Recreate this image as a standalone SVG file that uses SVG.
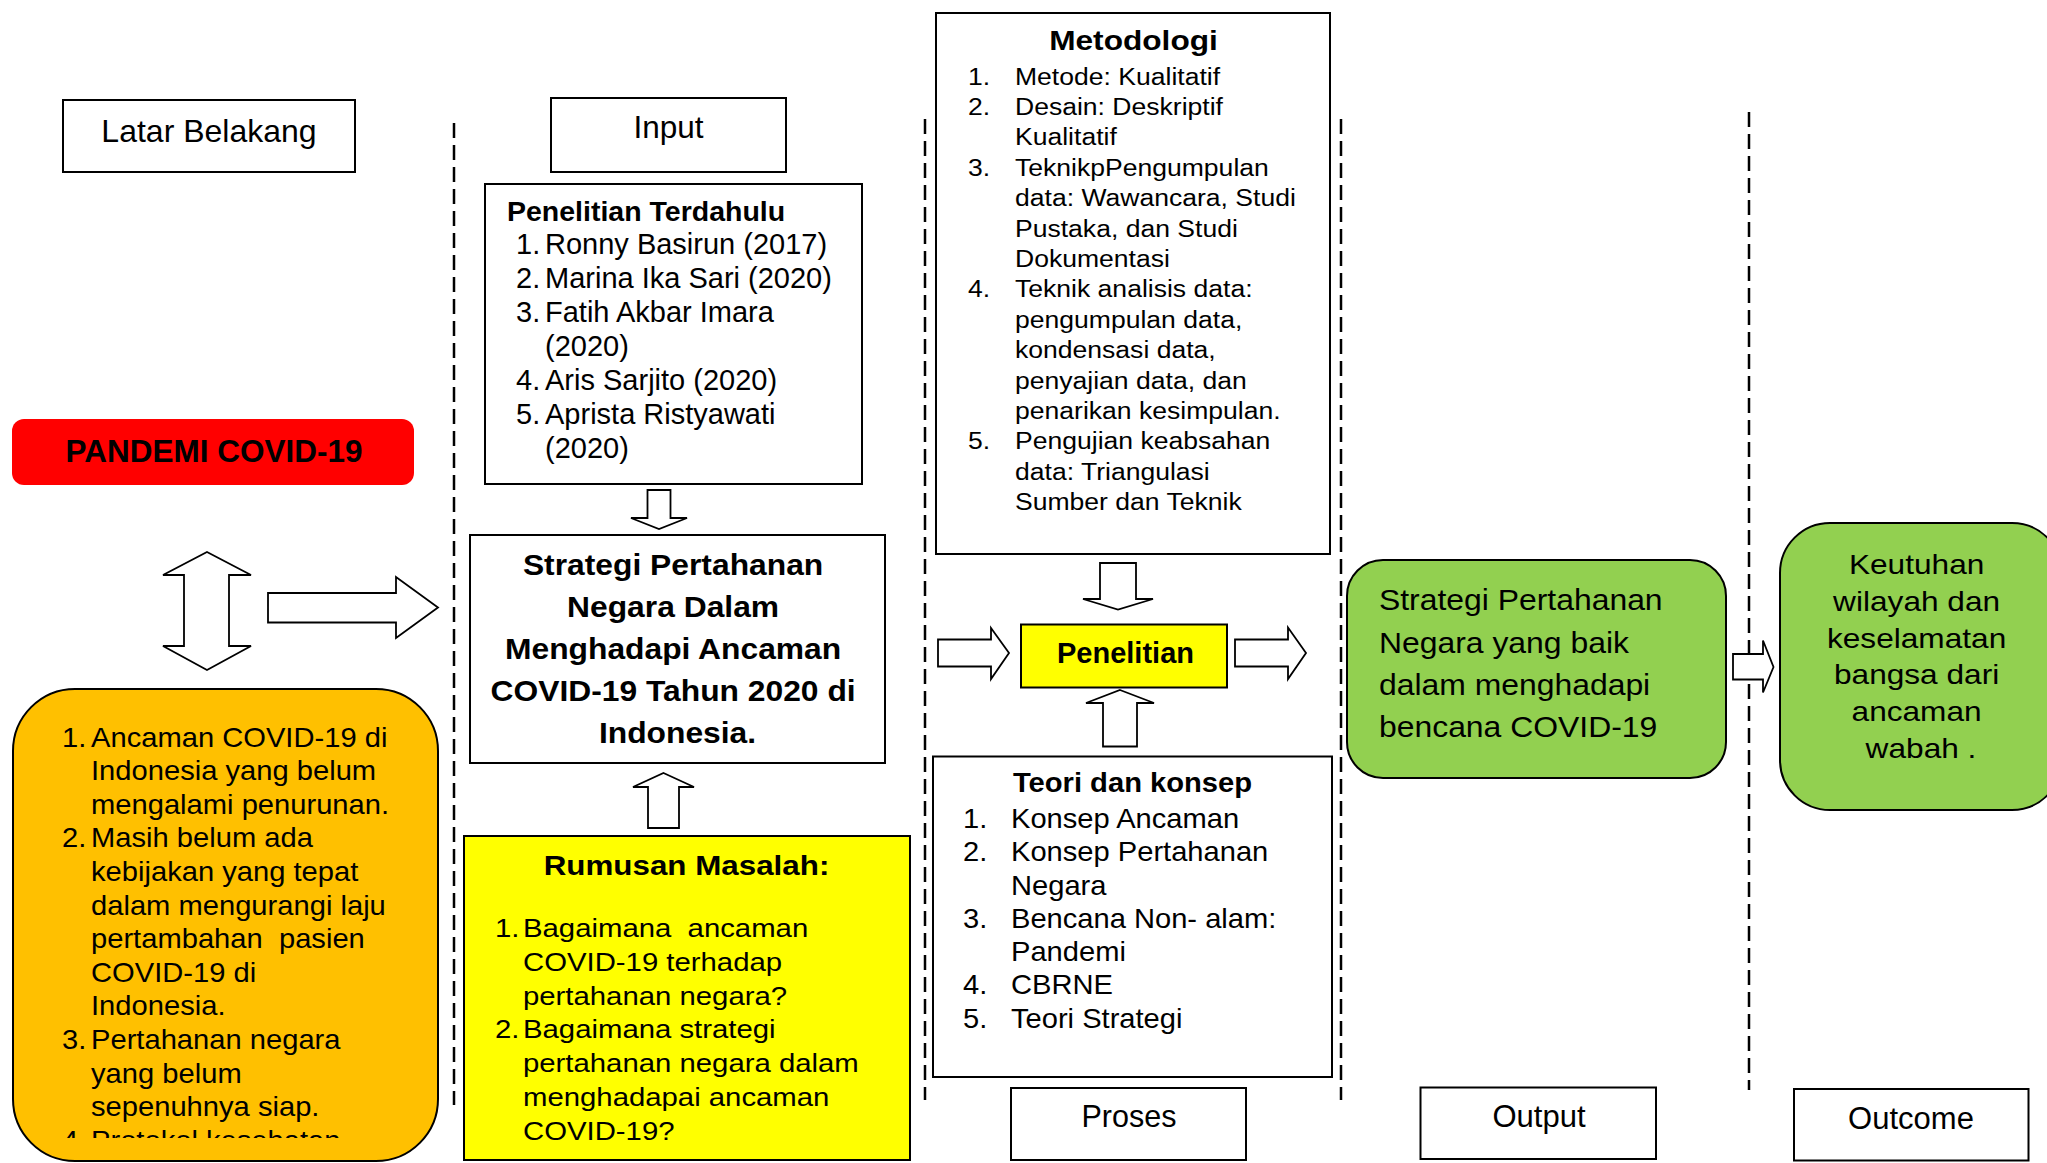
<svg xmlns="http://www.w3.org/2000/svg" width="2047" height="1163" viewBox="0 0 2047 1163">
<style>
.box{fill:#fff;stroke:#000;stroke-width:2}
.yel{fill:#FFFF00;stroke:#000;stroke-width:2}
.grn{fill:#92D050;stroke:#000;stroke-width:2}
.org{fill:#FFC000;stroke:#000;stroke-width:2}
.arrow{fill:#fff;stroke:#000;stroke-width:1.8;stroke-linejoin:miter}
.dash{stroke:#000;stroke-width:2.5;stroke-dasharray:15 7;fill:none}
text{font-family:"Liberation Sans",Arial,sans-serif;fill:#000}
.b{font-weight:bold}
.m{text-anchor:middle}
</style>
<defs>
<clipPath id="orgClip"><rect x="13" y="689" width="425" height="449"/></clipPath>
</defs>
<rect width="2047" height="1163" fill="#fff"/>

<g id="connectors">
<line class="dash" x1="454" y1="123" x2="454" y2="1105"/>
<line class="dash" x1="925" y1="119" x2="925" y2="1100"/>
<line class="dash" x1="1341" y1="119" x2="1341" y2="1100"/>
<line class="dash" x1="1749" y1="112" x2="1749" y2="1090"/>
<polygon id="arrow-double" class="arrow" points="207,552 251,575 229,575 229,646 251,646 207,670 163,646 184,646 184,575 163,575"/>
<polygon id="arrow-latar-strategi" class="arrow" points="268,593 396,593 396,577 438,607.5 396,638 396,622.5 268,622.5"/>
<polygon id="arrow-terdahulu-strategi" class="arrow" points="647.5,490 670.5,490 670.5,518 687,518 659,529 631,518 647.5,518"/>
<polygon id="arrow-rumusan-strategi" class="arrow" points="663.5,773 694,787 679,787 679,828 648,828 648,787 633,787"/>
<polygon id="arrow-metodologi-penelitian" class="arrow" points="1100,563 1136,563 1136,599 1153,599 1118,609.5 1083,599 1100,599"/>
<polygon id="arrow-input-penelitian" class="arrow" points="938,639.5 991,639.5 991,628 1009,653 991,679 991,666.5 938,666.5"/>
<polygon id="arrow-penelitian-output" class="arrow" points="1235,639.5 1288,639.5 1288,627.5 1306,653 1288,679 1288,666.5 1235,666.5"/>
<polygon id="arrow-teori-penelitian" class="arrow" points="1120,690 1154,703 1137,703 1137,746.5 1103,746.5 1103,703 1086,703"/>
<polygon id="arrow-output-outcome" class="arrow" points="1733,654 1763,654 1763,640.5 1773.5,667 1763,692.5 1763,679.5 1733,679.5"/>
</g>

<g id="latar-belakang">
<rect class="box" x="63" y="100" width="292" height="72"/>
<text class="m" x="209" y="142" font-size="32">Latar Belakang</text>
</g>

<g id="pandemi">
<rect x="12" y="419" width="402" height="66" rx="12" fill="#FF0000"/>
<text class="b m" x="214" y="462" font-size="31.5">PANDEMI COVID-19</text>
</g>

<g id="masalah-latar">
<rect class="org" x="13" y="689" width="425" height="472" rx="62"/>
<g clip-path="url(#orgClip)">
<text font-size="27.5" transform="translate(91,0) scale(1.06,1)">
<tspan x="-27.4" y="746.7">1.</tspan><tspan x="0" y="746.7">Ancaman COVID-19 di</tspan>
<tspan x="0" y="780.3">Indonesia yang belum</tspan>
<tspan x="0" y="813.9">mengalami penurunan.</tspan>
<tspan x="-27.4" y="847.5">2.</tspan><tspan x="0" y="847.5">Masih belum ada</tspan>
<tspan x="0" y="881.1">kebijakan yang tepat</tspan>
<tspan x="0" y="914.7">dalam mengurangi laju</tspan>
<tspan x="0" y="948.3">pertambahan&#160; pasien</tspan>
<tspan x="0" y="981.9">COVID-19 di</tspan>
<tspan x="0" y="1015.5">Indonesia.</tspan>
<tspan x="-27.4" y="1049.1">3.</tspan><tspan x="0" y="1049.1">Pertahanan negara</tspan>
<tspan x="0" y="1082.7">yang belum</tspan>
<tspan x="0" y="1116.3">sepenuhnya siap.</tspan>
<tspan x="-27.4" y="1149.9">4.</tspan><tspan x="0" y="1149.9">Protokol kesehatan</tspan>
</text>
</g>
</g>

<g id="input">
<rect class="box" x="551" y="98" width="235" height="74"/>
<text class="m" x="668.5" y="138" font-size="31.5">Input</text>
</g>

<g id="penelitian-terdahulu">
<rect class="box" x="485" y="184" width="377" height="300"/>
<text class="b" x="507" y="220.5" font-size="28.5">Penelitian Terdahulu</text>
<text font-size="29">
<tspan x="516" y="254">1.</tspan><tspan x="545" y="254">Ronny Basirun (2017)</tspan>
<tspan x="516" y="288">2.</tspan><tspan x="545" y="288">Marina Ika Sari (2020)</tspan>
<tspan x="516" y="322">3.</tspan><tspan x="545" y="322">Fatih Akbar Imara</tspan>
<tspan x="545" y="356">(2020)</tspan>
<tspan x="516" y="390">4.</tspan><tspan x="545" y="390">Aris Sarjito (2020)</tspan>
<tspan x="516" y="424">5.</tspan><tspan x="545" y="424">Aprista Ristyawati</tspan>
<tspan x="545" y="458">(2020)</tspan>
</text>
</g>

<g id="strategi">
<rect class="box" x="470" y="535" width="415" height="228"/>
<text class="b m" font-size="30" transform="translate(677.5,0) scale(1.06,1)">
<tspan x="0" y="575">Strategi Pertahanan</tspan>
<tspan x="0" y="617">Negara Dalam</tspan>
<tspan x="0" y="659">Menghadapi Ancaman</tspan>
<tspan x="0" y="701">COVID-19 Tahun 2020 di</tspan>
<tspan x="0" y="743">Indonesia.</tspan>
</text>
</g>

<g id="rumusan-masalah">
<rect class="yel" x="464" y="836" width="446" height="324"/>
<text class="b m" font-size="28" transform="translate(686.5,0) scale(1.12,1)"><tspan x="0" y="875">Rumusan Masalah:</tspan></text>
<text font-size="25.5" transform="translate(523,0) scale(1.15,1)">
<tspan x="-24.3" y="937">1.</tspan><tspan x="0" y="937">Bagaimana&#160; ancaman</tspan>
<tspan x="0" y="970.8">COVID-19 terhadap</tspan>
<tspan x="0" y="1004.6">pertahanan negara?</tspan>
<tspan x="-24.3" y="1038.4">2.</tspan><tspan x="0" y="1038.4">Bagaimana strategi</tspan>
<tspan x="0" y="1072.2">pertahanan negara dalam</tspan>
<tspan x="0" y="1106">menghadapai ancaman</tspan>
<tspan x="0" y="1139.8">COVID-19?</tspan>
</text>
</g>

<g id="metodologi">
<rect class="box" x="936" y="13" width="394" height="541"/>
<text class="b m" font-size="28" transform="translate(1133.5,0) scale(1.13,1)"><tspan x="0" y="50">Metodologi</tspan></text>
<text font-size="23.5" transform="translate(1015,0) scale(1.13,1)">
<tspan x="-41.6" y="84.6">1.</tspan><tspan x="0" y="84.6">Metode: Kualitatif</tspan>
<tspan x="-41.6" y="115">2.</tspan><tspan x="0" y="115">Desain: Deskriptif</tspan>
<tspan x="0" y="145.4">Kualitatif</tspan>
<tspan x="-41.6" y="175.8">3.</tspan><tspan x="0" y="175.8">TeknikpPengumpulan</tspan>
<tspan x="0" y="206.2">data: Wawancara, Studi</tspan>
<tspan x="0" y="236.6">Pustaka, dan Studi</tspan>
<tspan x="0" y="267">Dokumentasi</tspan>
<tspan x="-41.6" y="297.4">4.</tspan><tspan x="0" y="297.4">Teknik analisis data:</tspan>
<tspan x="0" y="327.8">pengumpulan data,</tspan>
<tspan x="0" y="358.2">kondensasi data,</tspan>
<tspan x="0" y="388.6">penyajian data, dan</tspan>
<tspan x="0" y="419">penarikan kesimpulan.</tspan>
<tspan x="-41.6" y="449.4">5.</tspan><tspan x="0" y="449.4">Pengujian keabsahan</tspan>
<tspan x="0" y="479.8">data: Triangulasi</tspan>
<tspan x="0" y="510.2">Sumber dan Teknik</tspan>
</text>
</g>

<g id="penelitian">
<rect class="yel" x="1021" y="624.5" width="206" height="63"/>
<text class="b m" x="1125.5" y="663" font-size="29">Penelitian</text>
</g>

<g id="teori-konsep">
<rect class="box" x="933" y="756.5" width="399" height="320.5"/>
<text class="b m" font-size="27" transform="translate(1132.5,0) scale(1.08,1)"><tspan x="0" y="792.3">Teori dan konsep</tspan></text>
<text font-size="28" transform="translate(1011,0) scale(1.04,1)">
<tspan x="-46.2" y="828">1.</tspan><tspan x="0" y="828">Konsep Ancaman</tspan>
<tspan x="-46.2" y="861.3">2.</tspan><tspan x="0" y="861.3">Konsep Pertahanan</tspan>
<tspan x="0" y="894.6">Negara</tspan>
<tspan x="-46.2" y="927.9">3.</tspan><tspan x="0" y="927.9">Bencana Non- alam:</tspan>
<tspan x="0" y="961.2">Pandemi</tspan>
<tspan x="-46.2" y="994.5">4.</tspan><tspan x="0" y="994.5">CBRNE</tspan>
<tspan x="-46.2" y="1027.8">5.</tspan><tspan x="0" y="1027.8">Teori Strategi</tspan>
</text>
</g>

<g id="proses">
<rect class="box" x="1011" y="1088" width="235" height="72"/>
<text class="m" x="1129" y="1127" font-size="30.5">Proses</text>
</g>

<g id="output-strategi">
<rect class="grn" x="1347" y="560" width="379" height="218" rx="36"/>
<text font-size="29" transform="translate(1379,0) scale(1.1,1)">
<tspan x="0" y="610.5">Strategi Pertahanan</tspan>
<tspan x="0" y="652.8">Negara yang baik</tspan>
<tspan x="0" y="695.1">dalam menghadapi</tspan>
<tspan x="0" y="737.4">bencana COVID-19</tspan>
</text>
</g>

<g id="output">
<rect class="box" x="1420.5" y="1087.5" width="235.5" height="71.5"/>
<text class="m" x="1539" y="1127" font-size="31">Output</text>
</g>

<g id="outcome-keutuhan">
<rect class="grn" x="1780" y="523" width="282" height="287" rx="50"/>
<text class="m" font-size="28.5" transform="translate(1921,0) scale(1.11,1)">
<tspan x="0" y="574.3">Keutuhan</tspan>
<tspan x="0" y="611">wilayah dan</tspan>
<tspan x="0" y="647.7">keselamatan</tspan>
<tspan x="0" y="684.4">bangsa dari</tspan>
<tspan x="0" y="721.1">ancaman</tspan>
<tspan x="0" y="757.8">wabah .</tspan>
</text>
</g>

<g id="outcome">
<rect class="box" x="1794" y="1089" width="234.5" height="71.5"/>
<text class="m" x="1911" y="1129" font-size="31">Outcome</text>
</g>
</svg>
